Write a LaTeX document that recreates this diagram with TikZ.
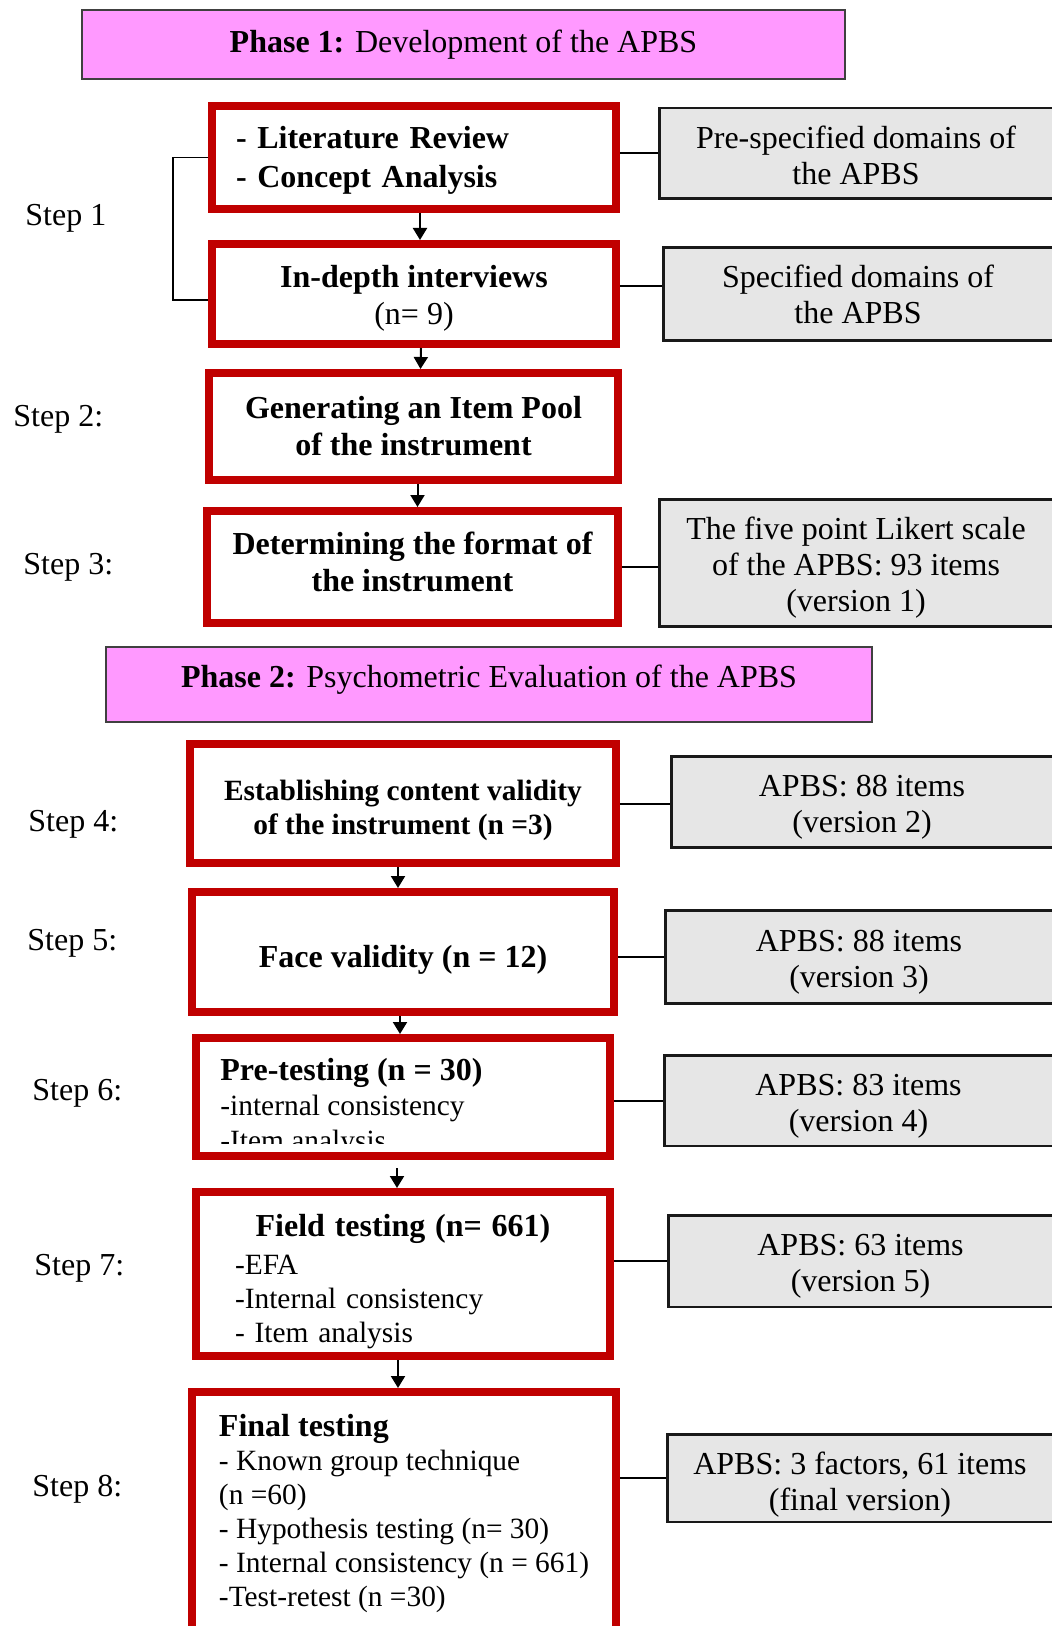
\documentclass[tikz,border=0pt]{standalone}
\usepackage{fontspec}
\setmainfont{Liberation Serif}
\usetikzlibrary{arrows.meta}
\definecolor{boxred}{RGB}{192,0,0}
\definecolor{phasepink}{RGB}{255,153,255}
\definecolor{notegray}{RGB}{230,230,230}
\newcommand{\lift}[1]{\rule{0pt}{#1}}

\begin{document}
\begin{tikzpicture}[x=0.5pt, y=-0.5pt,
  phase/.style={draw=black!75, line width=0.8pt, fill=phasepink,
                font=\fontsize{16}{18}\selectfont},
  stepbox/.style={draw=boxred, line width=4pt, fill=white, align=center,
                  inner sep=2pt, font=\fontsize{16}{18.5}\selectfont\bfseries},
  listbox/.style={draw=boxred, line width=4pt, fill=white, align=left,
                  inner sep=2pt, font=\fontsize{14.7}{17}\selectfont},
  note/.style={draw=black!90, line width=1.25pt, fill=notegray, align=center,
               inner sep=2pt, font=\fontsize{16}{18}\selectfont},
  steplab/.style={anchor=west, inner sep=0pt, font=\fontsize{16}{18}\selectfont},
  link/.style={line width=1pt},
  flow/.style={line width=1pt, -{Triangle[length=6pt, width=7pt]}}]

\useasboundingbox (0,0) rectangle (1052,1626);

% phase 1
\node[phase, minimum width=381.5pt, minimum height=34.5pt] (ph1) at (463.5,44.5)
  {\textbf{Phase 1:} Development of the APBS};

\node[stepbox, minimum width=202pt, minimum height=51.5pt, text width=178pt,
      inner xsep=12pt, align=left, font=\fontsize{16}{19.5}\selectfont\bfseries]
      (lit) at (414,157.5)
  {\lift{14pt}- Literature Review\\- Concept Analysis};
\node[stepbox, minimum width=202pt, minimum height=50pt] (intv) at (414,294)
  {\lift{15pt}In-depth interviews\\\mdseries(n= 9)};
\node[stepbox, minimum width=204.5pt, minimum height=53.5pt] (gen) at (413.5,426.5)
  {Generating an Item Pool\\of the instrument};
\node[stepbox, minimum width=205.5pt, minimum height=56pt] (fmt) at (412.5,567)
  {Determining the format of\\the instrument\rule[-5pt]{0pt}{5pt}};

\node[note, minimum width=196.75pt, minimum height=45.25pt] (g1) at (856,153.5)
  {\lift{13pt}Pre-specified domains of\\the APBS};
\node[note, minimum width=194.75pt, minimum height=46.5pt] (g2) at (858,294)
  {Specified domains of\\the APBS};
\node[note, minimum width=196.75pt, minimum height=63.5pt] (g3) at (856,563)
  {\lift{16pt}The five point Likert scale\\of the APBS: 93 items\\(version 1)};

\node[steplab] (l1) at (25,218) {Step 1};
\node[steplab] (l2) at (13,419) {Step 2:};
\node[steplab] (l3) at (23,567) {Step 3:};

\draw[link, line width=0.8pt] (lit.west) -- ++(-35,0) |- ([yshift=-3pt]intv.west);
\draw[flow] ([xshift=3pt]lit.south) -- ([xshift=3pt]intv.north);
\draw[flow] ([xshift=3.5pt]intv.south) -- ([xshift=3.5pt]gen.north);
\draw[flow] ([xshift=2pt]gen.south) -- ([xshift=2pt]gen.south |- fmt.north);
\draw[link] (g1.west -| lit.east) -- (g1.west);
\draw[link] ([yshift=4pt]intv.east) -- ([yshift=4pt]intv.east -| g2.west);
\draw[link] (fmt.east) -- (fmt.east -| g3.west);

% phase 2
\node[phase, minimum width=383pt, minimum height=37.5pt, text depth=8pt] (ph2) at (489,684.5)
  {\textbf{Phase 2:} Psychometric Evaluation of the APBS};

\node[stepbox, minimum width=213pt, minimum height=59.5pt,
      font=\fontsize{14.7}{17}\selectfont\bfseries] (s4) at (403,803.5)
  {\lift{17.3pt}Establishing content validity\\of the instrument (n =3)};
\node[stepbox, minimum width=211pt, minimum height=60pt] (s5) at (403,952)
  {\lift{19.4pt}Face validity (n = 12)};
\node[listbox, minimum width=207pt, minimum height=59pt] (s6) at (403,1097) {};
\begin{scope}
  \clip (s6.north west) rectangle ([yshift=8.5pt]s6.south east);
  \node[anchor=north west, inner sep=0pt, align=left,
        font=\fontsize{14.7}{17.5}\selectfont] (s6text)
    at ([xshift=14pt, yshift=-12pt]s6.north west)
    {{\fontsize{16}{17.5}\selectfont\bfseries Pre-testing (n = 30)}\\-internal consistency\\-Item analysis};
\end{scope}
\node[listbox, minimum width=207pt, minimum height=82pt, text width=168pt,
      inner xsep=19.5pt] (s7) at (403,1274)
  {\lift{18.6pt}\makebox[\linewidth]{\fontsize{16}{17}\selectfont\bfseries Field testing (n= 661)}\\[2pt]-EFA\\-Internal consistency\\- Item analysis};
\node[listbox, minimum width=212pt, minimum height=122pt] (s8) at (404,1514)
  {{\fontsize{16}{17}\selectfont\bfseries Final testing}\\- Known group technique\\(n =60)\\- Hypothesis testing (n= 30)\\- Internal consistency (n = 661)\\-Test-retest (n =30)};

\node[note, minimum width=190.75pt, minimum height=45.5pt] (g4) at (862,802)
  {\lift{16pt}APBS: 88 items\\(version 2)};
\node[note, minimum width=193.75pt, minimum height=46.5pt] (g5) at (859,957)
  {\lift{15.5pt}APBS: 88 items\\(version 3)};
\node[note, minimum width=194.25pt, minimum height=45.25pt] (g6) at (858.5,1100.5)
  {\lift{16.5pt}APBS: 83 items\\(version 4)};
\node[note, minimum width=192.25pt, minimum height=45.75pt] (g7) at (860.5,1261)
  {\lift{16pt}APBS: 63 items\\(version 5)};
\node[note, minimum width=192.75pt, minimum height=43.75pt] (g8) at (860,1478)
  {\lift{17.5pt}APBS: 3 factors, 61 items\\(final version)};

\node[steplab] (l4) at (28,824) {Step 4:};
\node[steplab] (l5) at (27,943) {Step 5:};
\node[steplab] (l6) at (32,1093) {Step 6:};
\node[steplab] (l7) at (34,1268) {Step 7:};
\node[steplab] (l8) at (32,1489) {Step 8:};

\draw[flow] ([xshift=-2.5pt]s4.south) -- ([xshift=-2.5pt]s5.north);
\draw[flow] ([xshift=-1.5pt]s5.south) -- ([xshift=-1.5pt]s6.north);
\draw[flow, shorten <=4pt] ([xshift=-3pt]s6.south) -- ([xshift=-3pt]s7.north);
\draw[flow] ([xshift=-2.5pt]s7.south) -- ([xshift=-2.5pt]s7.south |- s8.north);
\draw[link] (s4.east) -- (s4.east -| g4.west);
\draw[link] (g5.west -| s5.east) -- (g5.west);
\draw[link] (g6.west -| s6.east) -- (g6.west);
\draw[link] (g7.west -| s7.east) -- (g7.west);
\draw[link] (g8.west -| s8.east) -- (g8.west);
\end{tikzpicture}
\end{document}
